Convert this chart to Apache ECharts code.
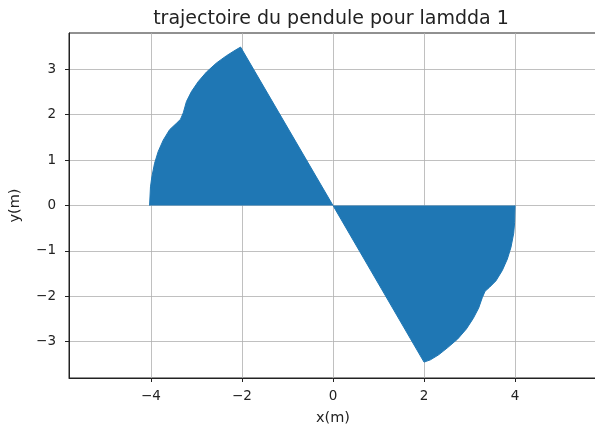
<!DOCTYPE html>
<html>
<head>
<meta charset="utf-8">
<script src="https://cdn.jsdelivr.net/npm/echarts@6/dist/echarts.min.js"></script>
<style>
  html, body { margin: 0; padding: 0; background: #fff; }
  #char { width: 595px; height: 431px; }
</style>
</head>
<body>
<div id="char"></div>
<script>
// trajectoire du pendule : contour
const upperX = [-4.03, -4.01, -3.98, -3.92, -3.84, -3.73, -3.59, -3.44, -3.35, -3.29, -3.22, -3.11, -2.96, -2.78, -2.56, -2.34, -2.15, -2.03, 0];
const upperY = [0, 0.41, 0.63, 0.93, 1.19, 1.44, 1.67, 1.81, 1.90, 2.04, 2.29, 2.51, 2.73, 2.94, 3.14, 3.30, 3.42, 3.49, 0];
const lowerX = [0, 2.0, 2.14, 2.32, 2.52, 2.74, 2.93, 3.08, 3.20, 3.28, 3.34, 3.44, 3.58, 3.72, 3.83, 3.91, 3.97, 3.99, 4.0];
const lowerY = [0, -3.45, -3.40, -3.29, -3.13, -2.94, -2.72, -2.49, -2.26, -2.03, -1.89, -1.80, -1.66, -1.43, -1.18, -0.92, -0.61, -0.38, 0];
const xTicks = [-4, -2, 0, 2, 4];
const yTicks = [-3, -2, -1, 0, 1, 2, 3];

const FONT = 'DejaVu Sans';
const BLUE = '#1f77b4';

function pairs(xs, ys) {
    return xs.map((x, i) => [x, ys[i]]);
}
function tickLabel(ticks) {
    return function (v) {
        const r = Math.round(v);
        if (Math.abs(v - r) > 1e-6 || ticks.indexOf(r) < 0) return '';
        return String(r).replace('-', '\u2212');
    };
}

const charEch = echarts.init(document.getElementById('char'), null, { renderer: 'canvas' });
const axisCommon = {
    type: 'value',
    nameLocation: 'middle',
    nameTextStyle: { fontFamily: FONT, fontSize: 14.5, color: '#222' },
    axisLine: { show: true, onZero: false, lineStyle: { color: '#222', width: 1 } },
    splitLine: { show: true, lineStyle: { color: '#b0b0b0', width: 0.8 } }
};
const labelCommon = { fontFamily: FONT, fontSize: 13.5, color: '#222', showMinLabel: true, showMaxLabel: true };
const tickCommon = { show: true, inside: false, length: 4, lineStyle: { color: '#222', width: 1 } };
const option = {
    animation: false,
    backgroundColor: '#fff',
    title: {
        text: 'trajectoire du pendule pour lamdda 1',
        left: 326,
        top: 5,
        textAlign: 'center',
        textStyle: { fontFamily: FONT, fontSize: 19, fontWeight: 'normal', color: '#222' }
    },
    grid: {
        left: 69, top: 33, width: 528, height: 345,
        outerBoundsMode: 'none',
        containLabel: false,
        show: true, borderColor: '#222', borderWidth: 1
    },
    xAxis: Object.assign({}, axisCommon, {
        name: 'x(m)', nameGap: 33,
        min: -5.8, max: 5.8, minInterval: 2, maxInterval: 2,
        axisTick: Object.assign({}, tickCommon, { customValues: xTicks }),
        axisLabel: Object.assign({}, labelCommon, { margin: 11, formatter: tickLabel(xTicks) })
    }),
    yAxis: Object.assign({}, axisCommon, {
        name: 'y(m)', nameGap: 46,
        min: -3.8, max: 3.8, minInterval: 1, maxInterval: 1,
        axisTick: Object.assign({}, tickCommon, { customValues: yTicks }),
        axisLabel: Object.assign({}, labelCommon, { margin: 13, formatter: tickLabel(yTicks) })
    }),
    series: [
        {
            type: 'line',
            data: pairs(upperX, upperY),
            showSymbol: false,
            lineStyle: { color: BLUE, width: 1 },
            areaStyle: { color: BLUE, opacity: 1 },
            itemStyle: { color: BLUE }
        },
        {
            type: 'line',
            data: pairs(lowerX, lowerY),
            showSymbol: false,
            lineStyle: { color: BLUE, width: 1 },
            areaStyle: { color: BLUE, opacity: 1 },
            itemStyle: { color: BLUE }
        }
    ]
};
charEch.setOption(option, true);
</script>
</body>
</html>
